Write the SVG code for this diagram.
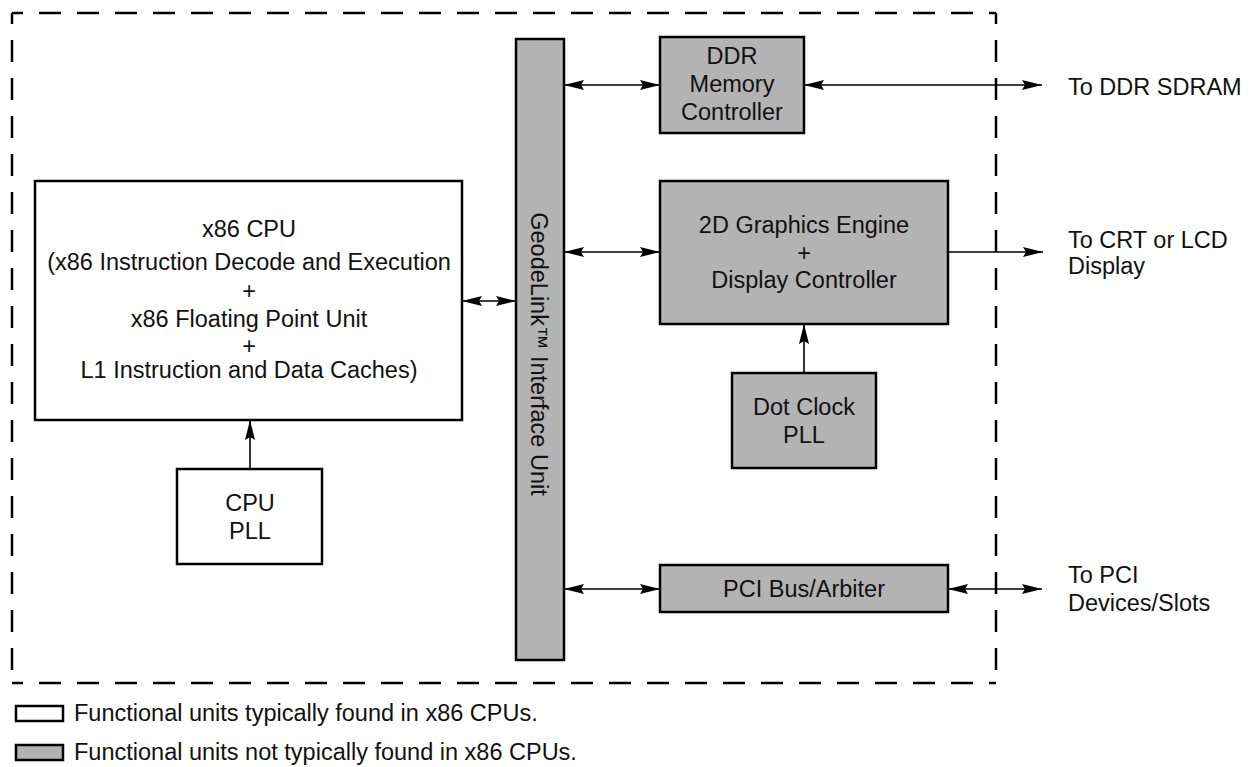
<svg xmlns="http://www.w3.org/2000/svg" width="1253" height="767" viewBox="0 0 1253 767">
<style>
text{font-family:"Liberation Sans",Arial,Helvetica,sans-serif;font-size:23.5px;fill:#111}
.c{text-anchor:middle}
.w{fill:#fff;stroke:#000;stroke-width:2.5}
.g{fill:#b3b3b3;stroke:#000;stroke-width:2.5}
.d{stroke:#000;stroke-width:2.5;stroke-dasharray:22 16;stroke-dashoffset:11;fill:none}
.a{stroke:#000;stroke-width:1.6;fill:none}
.b{marker-start:url(#h);marker-end:url(#h)}
.e{marker-end:url(#h)}
</style>
<defs>
<marker id="h" markerUnits="userSpaceOnUse" markerWidth="20" markerHeight="10" refX="20" refY="5" orient="auto-start-reverse" viewBox="0 0 20 10">
<path d="M0,0 L20,5 L0,10 L3,5 z" fill="#000"/>
</marker>
</defs>
<g id="boundary">
<line class="d" x1="12" y1="13" x2="996" y2="13"/>
<line class="d" x1="12" y1="13" x2="12" y2="683"/>
<line class="d" x1="996" y1="13" x2="996" y2="683"/>
<line class="d" x1="12" y1="683" x2="996" y2="683"/>
</g>
<g id="connectors">
<line class="a b" x1="564" y1="85" x2="660" y2="85"/>
<line class="a b" x1="804" y1="85" x2="1042" y2="85"/>
<line class="a b" x1="462" y1="301" x2="516" y2="301"/>
<line class="a b" x1="564" y1="252" x2="660" y2="252"/>
<line class="a e" x1="948" y1="252" x2="1043" y2="252"/>
<line class="a e" x1="804" y1="373" x2="804" y2="324"/>
<line class="a e" x1="250" y1="469" x2="250" y2="420"/>
<line class="a b" x1="564" y1="589" x2="660" y2="589"/>
<line class="a b" x1="948" y1="589" x2="1042" y2="589"/>
</g>
<g id="geodelink">
<rect class="g" x="516" y="39" width="48" height="621"/>
<text transform="translate(531,354) rotate(90)" class="c">GeodeLink™ Interface Unit</text>
</g>
<g id="ddr">
<rect class="g" x="660" y="37" width="144" height="96"/>
<text class="c" x="732" y="64">DDR</text>
<text class="c" x="732" y="92">Memory</text>
<text class="c" x="732" y="120">Controller</text>
</g>
<g id="gfx">
<rect class="g" x="660" y="181" width="288" height="143"/>
<text class="c" x="804" y="233">2D Graphics Engine</text>
<text class="c" x="804" y="261">+</text>
<text class="c" x="804" y="288">Display Controller</text>
</g>
<g id="dotclock">
<rect class="g" x="732" y="373" width="144" height="95"/>
<text class="c" x="804" y="415">Dot Clock</text>
<text class="c" x="804" y="443">PLL</text>
</g>
<g id="pci">
<rect class="g" x="660" y="565" width="288" height="47"/>
<text class="c" x="804" y="597">PCI Bus/Arbiter</text>
</g>
<g id="cpu">
<rect class="w" x="35" y="181" width="427" height="239"/>
<text class="c" x="249" y="237">x86 CPU</text>
<text class="c" x="249" y="270">(x86 Instruction Decode and Execution</text>
<text class="c" x="249" y="299">+</text>
<text class="c" x="249" y="327">x86 Floating Point Unit</text>
<text class="c" x="249" y="354">+</text>
<text class="c" x="249" y="378">L1 Instruction and Data Caches)</text>
</g>
<g id="cpupll">
<rect class="w" x="177" y="469" width="145" height="95"/>
<text class="c" x="250" y="511">CPU</text>
<text class="c" x="250" y="539">PLL</text>
</g>
<g id="labels">
<text x="1068" y="95">To DDR SDRAM</text>
<text x="1068" y="248">To CRT or LCD</text>
<text x="1068" y="274">Display</text>
<text x="1068" y="583">To PCI</text>
<text x="1068" y="611">Devices/Slots</text>
</g>
<g id="legend">
<rect class="w" x="16" y="706" width="47" height="15"/>
<text x="74" y="721">Functional units typically found in x86 CPUs.</text>
<rect class="g" x="16" y="745" width="47" height="15"/>
<text x="74" y="760">Functional units not typically found in x86 CPUs.</text>
</g>
</svg>
